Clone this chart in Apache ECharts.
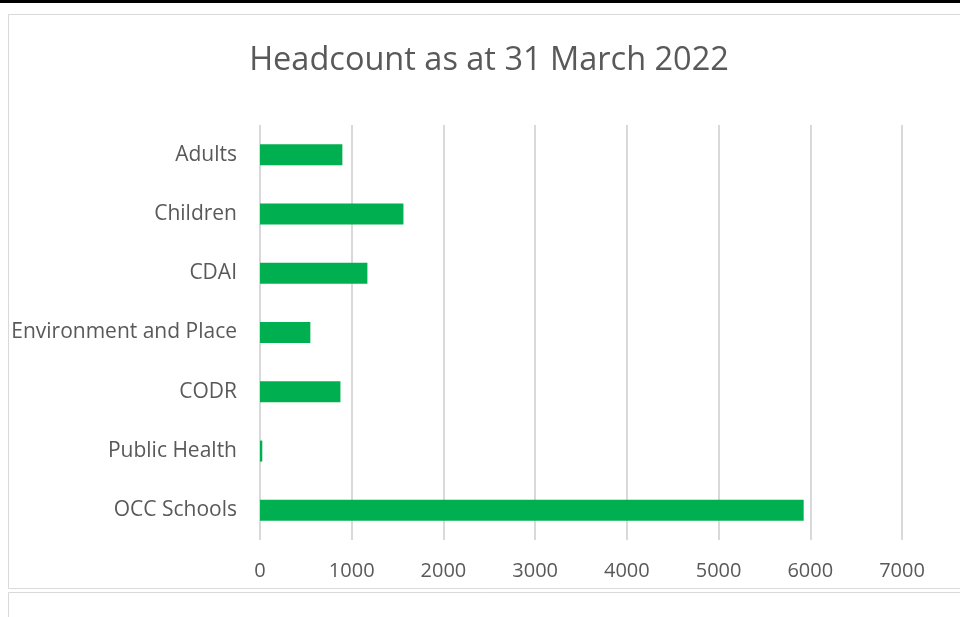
<!DOCTYPE html>
<html>
<head>
<meta charset="utf-8">
<script src="https://cdn.jsdelivr.net/npm/echarts@6/dist/echarts.min.js"></script>
<style>
  html, body { margin: 0; padding: 0; background: #fff; }
  #chart { width: 960px; height: 617px; }
</style>
</head>
<body>
<div id="chart"></div>
<script>
// Headcount by directorate, 31 March 2022
const categories = ['Adults', 'Children', 'CDAI', 'Environment and Place', 'CODR', 'Public Health', 'OCC Schools'];
const headcount = [898, 1564, 1171, 549, 877, 25, 5928];
const axisMax = 7000;
const axisStep = 1000;

const FONT = 'Open Sans';
const TEXT = '#595959';

const chart = echarts.init(document.getElementById('chart'), null, { renderer: 'canvas' });

chart.setOption({
  animation: false,
  backgroundColor: '#ffffff',
  title: {
    text: 'Headcount as at 31 March 2022',
    left: 484,
    top: 39,
    textAlign: 'center',
    textStyle: { fontFamily: FONT, fontSize: 32.5, fontWeight: 'normal', color: TEXT }
  },
  grid: { left: 260, right: 58, top: 125, bottom: 77, containLabel: false },
  xAxis: {
    type: 'value',
    min: 0,
    max: axisMax,
    interval: axisStep,
    axisLine: { show: false },
    axisTick: { show: false },
    splitLine: { show: true, lineStyle: { color: '#d9d9d9', width: 2 } },
    axisLabel: {
      fontFamily: FONT, fontSize: 20, color: TEXT, margin: 21,
      formatter: v => String(v)
    }
  },
  yAxis: {
    type: 'category',
    data: categories,
    inverse: true,
    axisLine: { show: false },
    axisTick: { show: false },
    axisLabel: { fontFamily: FONT, fontSize: 21, color: TEXT, margin: 23 }
  },
  series: [{
    type: 'bar',
    data: headcount,
    barWidth: 21,
    itemStyle: { color: '#00b050' }
  }],
  graphic: [
    { type: 'rect', shape: { x: 0, y: 0, width: 960, height: 3 }, style: { fill: '#000' }, silent: true },
    { type: 'rect', shape: { x: 8.5, y: 14.5, width: 980, height: 574 }, style: { fill: null, stroke: '#d9d9d9', lineWidth: 1 }, silent: true, z: -1 },
    { type: 'rect', shape: { x: 8.5, y: 592.5, width: 980, height: 60 }, style: { fill: null, stroke: '#d9d9d9', lineWidth: 1 }, silent: true, z: -1 }
  ]
});
</script>
</body>
</html>
